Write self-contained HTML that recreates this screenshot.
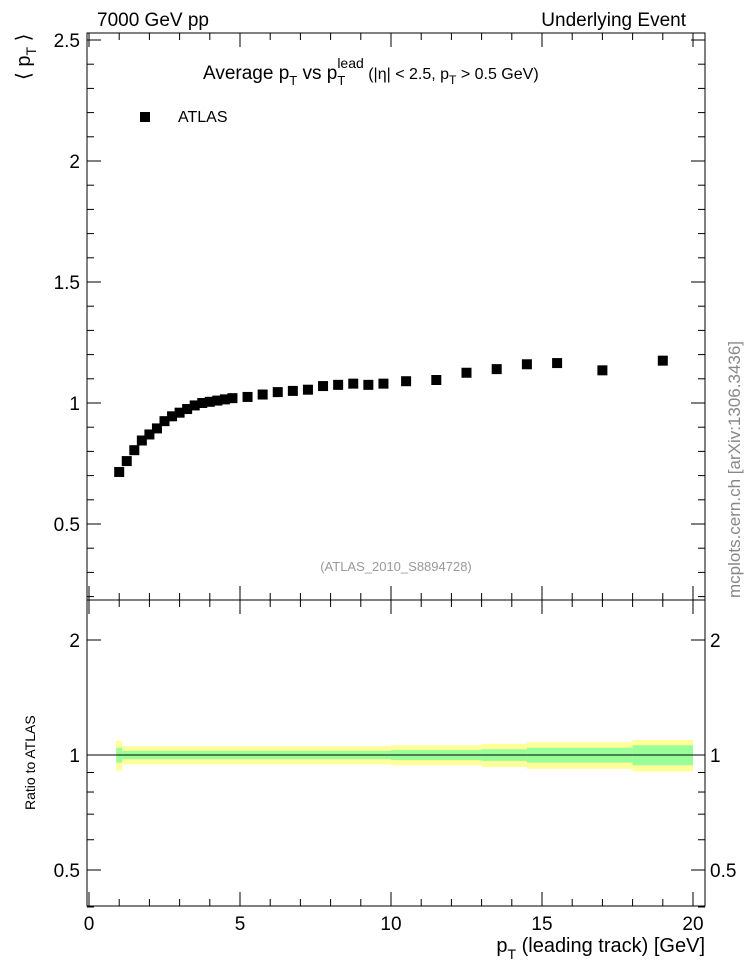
<!DOCTYPE html>
<html><head><meta charset="utf-8"><style>
body{margin:0;background:#fff;}
svg{display:block;font-family:"Liberation Sans",sans-serif;}
</style></head><body>
<svg width="746" height="972" viewBox="0 0 746 972" xmlns="http://www.w3.org/2000/svg">
<g id="g"></g>
<text x="97" y="26" font-size="19">7000 GeV pp</text>
<text x="686" y="26" font-size="19" text-anchor="end">Underlying Event</text>
<text x="203" y="79" font-size="19">Average p<tspan font-size="13" dy="6">T</tspan><tspan dy="-6"> vs p</tspan><tspan font-size="13" dy="6">T</tspan><tspan font-size="14" dx="-8" dy="-17">lead</tspan><tspan font-size="16" dy="11"> (|η| &lt; 2.5, p</tspan><tspan font-size="12" dy="5">T</tspan><tspan font-size="16" dy="-5"> &gt; 0.5 GeV)</tspan></text>
<rect x="140" y="112" width="10" height="10" fill="#000"/>
<text x="178" y="122" font-size="16">ATLAS</text>
<text x="396" y="571" font-size="13" fill="#999" text-anchor="middle">(ATLAS_2010_S8894728)</text>
<text transform="translate(30,80) rotate(-90)" font-size="20">⟨ p<tspan font-size="14" dy="6">T</tspan><tspan dy="-6"> ⟩</tspan></text>
<text transform="translate(35,810) rotate(-90)" font-size="14">Ratio to ATLAS</text>
<text x="705" y="952" font-size="20" text-anchor="end">p<tspan font-size="14" dy="7">T</tspan><tspan dy="-7"> (leading track) [GeV]</tspan></text>
<text transform="translate(740,598) rotate(-90)" font-size="17" fill="#888">mcplots.cern.ch [arXiv:1306.3436]</text>
</svg>
<script>
const xVals=[1.0,1.25,1.5,1.75,2.0,2.25,2.5,2.75,3.0,3.25,3.5,3.75,4.0,4.25,4.5,4.75,5.25,5.75,6.25,6.75,7.25,7.75,8.25,8.75,9.25,9.75,10.5,11.5,12.5,13.5,14.5,15.5,17,19];
const yVals=[0.715,0.76,0.805,0.845,0.87,0.895,0.925,0.945,0.96,0.975,0.99,1.0,1.005,1.01,1.015,1.02,1.025,1.035,1.045,1.05,1.055,1.07,1.075,1.08,1.075,1.08,1.09,1.095,1.125,1.14,1.16,1.165,1.135,1.175];
const bandEdges=[0.9,1.1,10,13,14.5,18,20];
const yellowErr=[0.09,0.055,0.06,0.07,0.08,0.095];
const greenErr=[0.045,0.025,0.03,0.035,0.045,0.06];
const xTicks=[0,5,10,15,20];
const yTicks=[0.5,1,1.5,2,2.5];
const rTicks=[0.5,1,2];
const L=87,R=705,T=33,M=600,B=906;
const sx=v=>89+v*30.2;
const sy=v=>403-(v-1)*242;
const sr=r=>755-382*Math.log10(r);
const NS="http://www.w3.org/2000/svg";
const g=document.getElementById('g');
function mk(t,a){const e=document.createElementNS(NS,t);for(const k in a)e.setAttribute(k,a[k]);g.appendChild(e);return e;}
for(let i=0;i<yellowErr.length;i++){
 const x0=sx(bandEdges[i]),x1=sx(bandEdges[i+1]);
 const y=mk('rect',{x:x0,y:sr(1+yellowErr[i]),width:x1-x0,height:sr(1-yellowErr[i])-sr(1+yellowErr[i]),fill:'#ffff99'});
 
 
 const gr=mk('rect',{x:x0,y:sr(1+greenErr[i]),width:x1-x0,height:sr(1-greenErr[i])-sr(1+greenErr[i]),fill:'#99ff99'});
 
 
}
const rl=mk('line',{x1:L,x2:R,y1:sr(1),y2:sr(1),stroke:'#000','stroke-width':1});


const f1=mk('rect',{x:L,y:T,width:R-L,height:M-T,fill:'none',stroke:'#000'});


const f2=mk('rect',{x:L,y:M,width:R-L,height:B-M,fill:'none',stroke:'#000'});


for(let v=0;v<=20.5;v+=1){
 const maj=v%5===0,h=maj?14:7,X=sx(v);
 for(const [y0,d] of [[T,1],[M,-1],[M,1],[B,-1]]){mk('line',{x1:X,x2:X,y1:y0,y2:y0+d*h,stroke:'#000'});}
}
xTicks.forEach(v=>{const t=mk('text',{x:sx(v),y:930,'font-size':19,'text-anchor':'middle'});t.textContent=v;
 
 });
for(let v=0.2;v<=2.52;v+=0.1){const Y=sy(v);const maj=Math.abs(v*2-Math.round(v*2))<0.01;const h=maj?14:7;
 mk('line',{x1:L,x2:L+h,y1:Y,y2:Y,stroke:'#000'});mk('line',{x1:R,x2:R-h,y1:Y,y2:Y,stroke:'#000'});}
yTicks.forEach(v=>{const t=mk('text',{x:80,y:sy(v)+7,'font-size':19,'text-anchor':'end'});t.textContent=v;
 
 });
[0.4,0.5,0.6,0.7,0.8,0.9,1,2].forEach(v=>{const Y=sr(v);const maj=rTicks.includes(v);const h=maj?14:7;
 mk('line',{x1:L,x2:L+h,y1:Y,y2:Y,stroke:'#000'});mk('line',{x1:R,x2:R-h,y1:Y,y2:Y,stroke:'#000'});});
rTicks.forEach(v=>{const a=mk('text',{x:80,y:sr(v)+7,'font-size':19,'text-anchor':'end'});a.textContent=v;
 
 
 const b=mk('text',{x:710,y:sr(v)+7,'font-size':19});b.textContent=v;
 
 });
xVals.forEach((v,i)=>{const p=mk('rect',{x:sx(v)-5,y:sy(yVals[i])-5,width:10,height:10,fill:'#000'});
 
 });
</script>
</body></html>
